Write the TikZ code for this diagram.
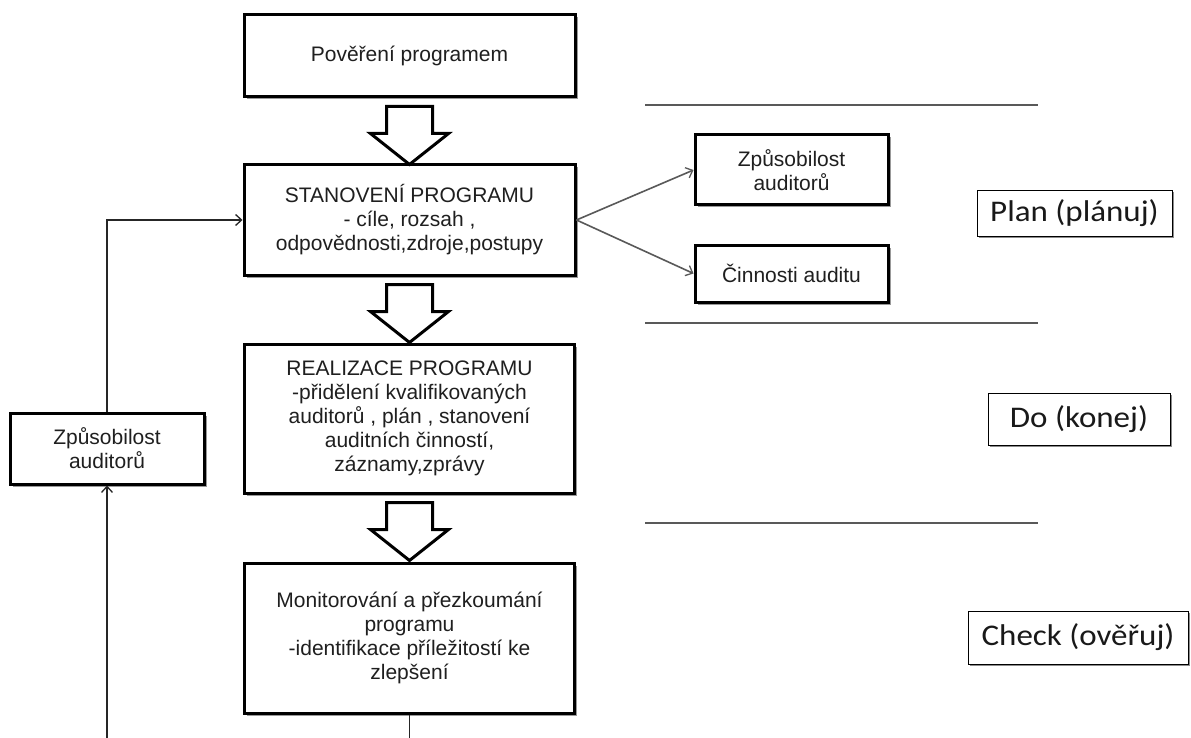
\documentclass[tikz,border=0pt]{standalone}
\usepackage{fontspec}
\setmainfont{Liberation Sans}
\newfontfamily\calfont{Carlito}[FakeStretch=1.1]
\usetikzlibrary{shadows,arrows.meta,calc}
\tikzset{
  mainbox/.style={draw=black, line width=3pt, fill=white, align=center, inner sep=2pt,
    font=\fontsize{21}{24}\selectfont, text=black!88,
    drop shadow={shadow xshift=2.5pt, shadow yshift=-2.5pt, fill=black!40, opacity=1}},
  pdca/.style={draw=black, line width=0.9pt, fill=white, inner sep=2pt,
    font=\calfont\fontsize{30}{34}\selectfont, text=black!90,
    drop shadow={shadow xshift=2pt, shadow yshift=-2pt, fill=black!45, opacity=1}},
  loopline/.style={draw=black!85, line width=1.3pt},
  branch/.style={draw=black!65, line width=1.6pt},
  sepline/.style={draw=black!65, line width=2pt},
  tip/.style={-{Straight Barb[length=6pt,width=11pt,line width=1.3pt]}},
  barrow/.pic={\draw[line width=3pt, fill=white, line join=miter]
    (-23,0) -- (-23,27) -- (-39,27) -- (0,58) -- (39,27) -- (23,27) -- (23,0) -- cycle;}
}
\begin{document}
\begin{tikzpicture}[x=1pt,y=-1pt]
\useasboundingbox[fill=white] (0,0) rectangle (1191,738);

% main column
\node[mainbox, minimum width=331pt, minimum height=82pt] (p1) at (409.5,56) {Pověření programem};
\node[mainbox, minimum width=331pt, minimum height=110pt] (p2) at (409.5,220)
  {STANOVENÍ PROGRAMU\\- cíle, rozsah ,\\odpovědnosti,zdroje,postupy};
\node[mainbox, minimum width=330pt, minimum height=149pt] (p3) at (409.5,418.5)
  {REALIZACE PROGRAMU\\-přidělení kvalifikovaných\\auditorů , plán , stanovení\\auditních činností,\\záznamy,zprávy};
\node[mainbox, minimum width=330pt, minimum height=150pt] (p4) at (409.5,638)
  {Monitorování a přezkoumání\\programu\\-identifikace příležitostí ke\\zlepšení};

% block arrows
\path ($(p1.south)+(0,8)$) pic {barrow};
\path ($(p2.south)+(0,8)$) pic {barrow};
\path ($(p3.south)+(0,8)$) pic {barrow};

% left box and loop
\node[mainbox, minimum width=194pt, minimum height=71pt] (lbox) at (107,448.5) {Způsobilost\\auditorů};
\coordinate (lb) at (107,738);
\coordinate (mb) at (409.5,738);
\draw[loopline, tip] (lb) -- (lbox.south);
\draw[loopline, tip] (lbox.north) |- (p2.west);
\draw[loopline] (p4.south) -- (mb);

% right boxes
\node[mainbox, minimum width=193pt, minimum height=70pt] (zp) at (791.5,170) {Způsobilost\\auditorů};
\node[mainbox, minimum width=193pt, minimum height=57pt] (cin) at (791.5,273.5) {Činnosti auditu};
\draw[branch, tip] (p2.east) -- (zp.west);
\draw[branch, tip] (p2.east) -- (cin.west);

% separator lines
\draw[sepline] (645,105) -- (1038,105);
\draw[sepline] (645,323) -- (1038,323);
\draw[sepline] (645,523) -- (1038,523);

% PDCA labels
\node[pdca, minimum width=195pt, minimum height=46pt] (plan) at (1074.5,213) {Plan (plánuj)};
\node[pdca, minimum width=182pt, minimum height=52pt] (do) at (1079,419) {Do (konej)};
\node[pdca, minimum width=220pt, minimum height=53pt] (check) at (1078,637.5) {Check (ověřuj)};
\end{tikzpicture}
\end{document}
